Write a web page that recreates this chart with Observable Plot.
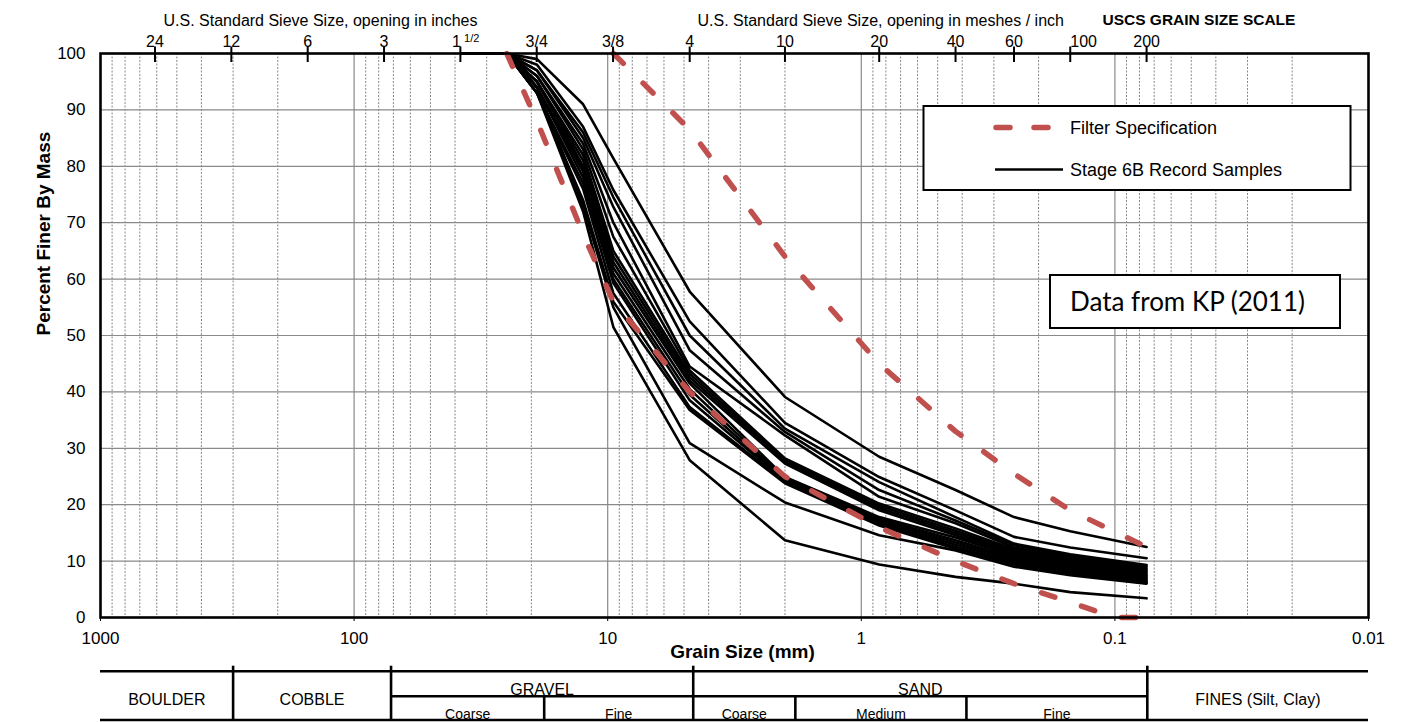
<!DOCTYPE html>
<html><head><meta charset="utf-8">
<script src="https://cdn.jsdelivr.net/npm/d3@7"></script>
<script src="https://cdn.jsdelivr.net/npm/@observablehq/plot@0.6"></script>
<style>
body{margin:0;background:#fff;}
#chart{position:relative;width:1421px;height:722px;}
</style>
</head><body><div id="chart"></div>
<script>
// ---- data ----
const sieveSizes = [37.5, 25, 19, 12.5, 9.5, 4.75, 2.0, 0.85, 0.425, 0.25, 0.15, 0.075];
const samplePercents = [
  [100,100,99,91,81.4,57.8,39.1,28.5,22.6,17.8,15.3,12.5],
  [100,100,98,87,75.8,52.5,34.5,24.9,19.0,14.3,12.4,10.5],
  [100,100,97,86,74.5,50.0,33.5,24.0,17.8,13.1,11.2,9.3],
  [100,100,97,85,72.8,47.4,32.9,22.6,17.2,12.8,10.9,9.0],
  [100,100,96,84,70.0,44.5,32.3,21.4,16.7,12.4,10.6,8.7],
  [100,100,96,83,67.5,43.8,28.2,20.2,15.8,12.1,10.3,8.4],
  [100,100,95,82,65.0,43.2,27.9,19.8,15.4,11.8,10.0,8.1],
  [100,100,95,81,64.0,42.6,27.6,19.4,15.0,11.5,9.7,7.8],
  [100,100,95,80,63.0,42.0,27.3,19.0,14.6,11.2,9.4,7.5],
  [100,100,94,79.5,62.0,41.5,24.9,17.8,14.2,10.9,9.1,7.3],
  [100,100,94,79,61.0,40.5,24.6,17.5,13.7,10.6,8.8,7.0],
  [100,100,94,78,60.0,39.5,24.4,17.2,13.3,10.3,8.5,6.8],
  [100,100,93,77,59.3,38.5,24.2,16.9,12.9,10.0,8.2,6.5],
  [100,100,93,76,57.5,37.3,24.0,16.6,12.5,9.7,7.9,6.3],
  [100,100,93,74,56.0,36.8,23.8,16.3,12.2,9.4,7.7,6.1],
  [100,100,94,73,55.0,30.9,20.4,14.6,11.9,9.0,7.5,6.0],
  [100,100,93,72,51.5,27.9,13.7,9.4,7.2,6.0,4.5,3.4]
];
const specFineSizes = [9.5, 4.75, 2.0, 0.85, 0.425, 0.25, 0.15, 0.075];
const specFinePercents = [100, 86.5, 64, 45, 33, 25.5, 19, 12.5];
const specCoarseSizes = [25, 19, 12.5, 9.5, 4.75, 2.0, 0.85, 0.425, 0.25, 0.15, 0.1, 0.075];
const specCoarsePercents = [100, 88, 68, 56, 40, 25, 16, 10, 6, 2.7, 0, 0];

const yTicks = [0,10,20,30,40,50,60,70,80,90,100];
const xTicks = [1000,100,10,1,0.1,0.01];
const xTickLabels = ["1000","100","10","1","0.1","0.01"];
const sieveTickSizes = [609.6,304.8,152.4,76.2,38.1,19.05,9.525,4.75,2.0,0.85,0.425,0.25,0.15,0.075];
const sieveTickLabels = ["24","12","6","3","1","3/4","3/8","4","10","20","40","60","100","200"];

const uscsMain = ["BOULDER","COBBLE","GRAVEL","SAND","FINES (Silt, Clay)"];
const uscsMainFrom = [1000, 300, 71.5, 4.6, 0.0745];
const uscsMainTo = [300, 71.5, 4.6, 0.0745, 0.01];
const uscsSub = ["Coarse","Fine","Coarse","Medium","Fine"];
const uscsSubFrom = [71.5, 17.8, 4.6, 1.82, 0.385];
const uscsSubTo = [17.8, 4.6, 1.82, 0.385, 0.0745];

const legendLabels = ["Filter Specification", "Stage 6B Record Samples"];
const noteText = "Data from KP (2011)";

// ---- tables built from the arrays ----
const sampleRows = samplePercents.flatMap((vals, i) =>
  vals.map((p, j) => ({sample: i, size: sieveSizes[j], pct: p})));
const specRows = [
  ...specFineSizes.map((s, i) => ({spec: "fine", size: s, pct: specFinePercents[i]})),
  ...specCoarseSizes.map((s, i) => ({spec: "coarse", size: s, pct: specCoarsePercents[i]}))
];
const minorX = [];
for (let e = -2; e <= 2; e++) for (let k = 2; k <= 9; k++) minorX.push(k * Math.pow(10, e));
const majorX = [100, 10, 1, 0.1];

const gmean = (a, b) => Math.sqrt(a * b);
// a main class is split when a sub-class starts inside it
const mainCells = uscsMain.map((t, i) => ({t, x: gmean(uscsMainFrom[i], uscsMainTo[i]),
  split: uscsSubFrom.some(s => s <= uscsMainFrom[i] && s > uscsMainTo[i])}));
const subCells = uscsSub.map((t, i) => ({t, x: gmean(uscsSubFrom[i], uscsSubTo[i])}));
const fullDividers = uscsMainFrom.slice(1);
const halfDividers = uscsSubFrom.filter(v => !uscsMainFrom.includes(v));

const sieveRows = sieveTickSizes.map((s, i) => ({s, label: sieveTickLabels[i]}));

const W = 1421, H = 722, mT = 53, mB = 105, mL = 100, mR = 53;
const plotH = H - mT - mB;
const FONT = "'Liberation Sans', Arial, sans-serif";

const chart = Plot.plot({
  width: W, height: H,
  marginTop: mT, marginBottom: mB, marginLeft: mL, marginRight: mR,
  style: {fontFamily: FONT, fontSize: "16px", background: "white", color: "black", overflow: "visible"},
  x: {type: "log", domain: [1000, 0.01]},
  y: {domain: [0, 100]},
  marks: [
    // grid
    Plot.ruleX(minorX, {stroke: "#6b6b6b", strokeWidth: 0.8, strokeDasharray: "2,1.5"}),
    Plot.ruleX(majorX, {stroke: "#8a8a8a", strokeWidth: 1.2}),
    Plot.ruleY(yTicks.slice(1, -1), {stroke: "#8a8a8a", strokeWidth: 1.2}),
    // sample curves
    Plot.line(sampleRows, {x: "size", y: "pct", z: "sample", stroke: "black", strokeWidth: 2.6, strokeLinejoin: "round"}),
    // filter specification
    Plot.line(specRows, {x: "size", y: "pct", z: "spec", stroke: "#C0504D", strokeWidth: 5.5,
      strokeDasharray: "14,28", strokeLinecap: "round"}),
    Plot.frame({stroke: "black", strokeWidth: 2.6}),
    // axes
    Plot.axisY({ticks: yTicks, tickSize: 0, tickPadding: 15, fontSize: 17, label: null}),
    Plot.axisX({ticks: xTicks, tickFormat: (d) => xTickLabels[xTicks.indexOf(d)], tickSize: 4, tickPadding: 10, fontSize: 17, label: null}),
    Plot.text(["Percent Finer By Mass"], {frameAnchor: "left", rotate: -90, dx: -57, fontWeight: "bold", fontSize: 19}),
    Plot.text(["Grain Size (mm)"], {frameAnchor: "bottom", dx: 8, dy: 40, fontWeight: "bold", fontSize: 19}),
    // top sieve axis
    Plot.ruleX(sieveTickSizes, {insetTop: -6.5, insetBottom: plotH - 9, stroke: "black", strokeWidth: 2}),
    Plot.text(sieveRows.filter(d => d.label !== "1" && d.label !== "100"), {x: "s", text: "label", frameAnchor: "top", lineAnchor: "bottom", dy: -6.5, fontSize: 16}),
    Plot.text(sieveRows.filter(d => d.label === "100"), {x: "s", text: "label", frameAnchor: "top", lineAnchor: "bottom", dy: -6.5, textAnchor: "start", fontSize: 16}),
    Plot.text(sieveRows.filter(d => d.label === "1"), {x: "s", text: "label", frameAnchor: "top", lineAnchor: "bottom", dy: -6.5, textAnchor: "end", dx: 0.5, fontSize: 16}),
    Plot.text(sieveRows.filter(d => d.label === "1"), {x: "s", text: () => "1/2", frameAnchor: "top", lineAnchor: "bottom", dy: -11.5, dx: 3.7, textAnchor: "start", fontSize: 11}),
    Plot.text(["U.S. Standard Sieve Size, opening in inches"], {frameAnchor: "top-left", dx: 63, dy: -33, lineAnchor: "middle", textAnchor: "start", fontSize: 16}),
    Plot.text(["U.S. Standard Sieve Size, opening in meshes / inch"], {frameAnchor: "top-left", dx: 597, dy: -33, lineAnchor: "middle", textAnchor: "start", fontSize: 16}),
    Plot.text(["USCS GRAIN SIZE SCALE"], {frameAnchor: "top-left", dx: 1002, dy: -33, lineAnchor: "middle", textAnchor: "start", fontSize: 15.5, fontWeight: "bold"}),
    // USCS grain size table
    Plot.ruleY([0], {dy: 53.7, stroke: "black", strokeWidth: 2.6}),
    Plot.ruleY([0], {dy: 102.5, stroke: "black", strokeWidth: 2.6}),
    Plot.ruleY([0], {x1: uscsSubFrom[0], x2: uscsSubTo[uscsSubTo.length - 1], dy: 78.7, stroke: "black", strokeWidth: 2.6}),
    Plot.ruleX(fullDividers, {insetTop: plotH + 48.7, insetBottom: -102.5, stroke: "black", strokeWidth: 2.6}),
    Plot.ruleX(halfDividers, {insetTop: plotH + 78.7, insetBottom: -102.5, stroke: "black", strokeWidth: 2.6}),
    Plot.text(mainCells.filter(d => !d.split), {x: "x", text: "t", frameAnchor: "bottom", dy: 82, lineAnchor: "middle", fontSize: 16}),
    Plot.text(mainCells.filter(d => d.split), {x: "x", text: "t", frameAnchor: "bottom", dy: 72.5, lineAnchor: "middle", fontSize: 16}),
    Plot.text(subCells, {x: "x", text: "t", frameAnchor: "bottom", dy: 97, lineAnchor: "middle", fontSize: 14})
  ]
});

document.getElementById("chart").appendChild(chart);

// legend and note boxes drawn in the same SVG
const svg = d3.select(chart);
const lg = svg.append("g").attr("font-family", FONT).attr("text-anchor", "start");
lg.append("rect").attr("x", 923.5).attr("y", 106).attr("width", 427).attr("height", 84)
  .attr("fill", "white").attr("stroke", "black").attr("stroke-width", 2);
lg.append("line").attr("x1", 996).attr("x2", 1048).attr("y1", 127.5).attr("y2", 127.5)
  .attr("stroke", "#C0504D").attr("stroke-width", 5.5).attr("stroke-linecap", "round").attr("stroke-dasharray", "14,24");
lg.append("line").attr("x1", 995).attr("x2", 1063).attr("y1", 169.5).attr("y2", 169.5)
  .attr("stroke", "black").attr("stroke-width", 2.6);
lg.append("text").attr("x", 1070).attr("y", 127.5).attr("dy", "0.35em").attr("font-size", 18).text(legendLabels[0]);
lg.append("text").attr("x", 1070).attr("y", 169.5).attr("dy", "0.35em").attr("font-size", 18).text(legendLabels[1]);

const ng = svg.append("g").attr("text-anchor", "start");
ng.append("rect").attr("x", 1050).attr("y", 275).attr("width", 290).attr("height", 53)
  .attr("fill", "white").attr("stroke", "black").attr("stroke-width", 2);
ng.append("text").attr("x", 1070).attr("y", 301.5).attr("dy", "0.36em")
  .attr("font-family", "Lato, 'Open Sans', sans-serif").attr("font-size", 26).text(noteText);
</script>
</body></html>
